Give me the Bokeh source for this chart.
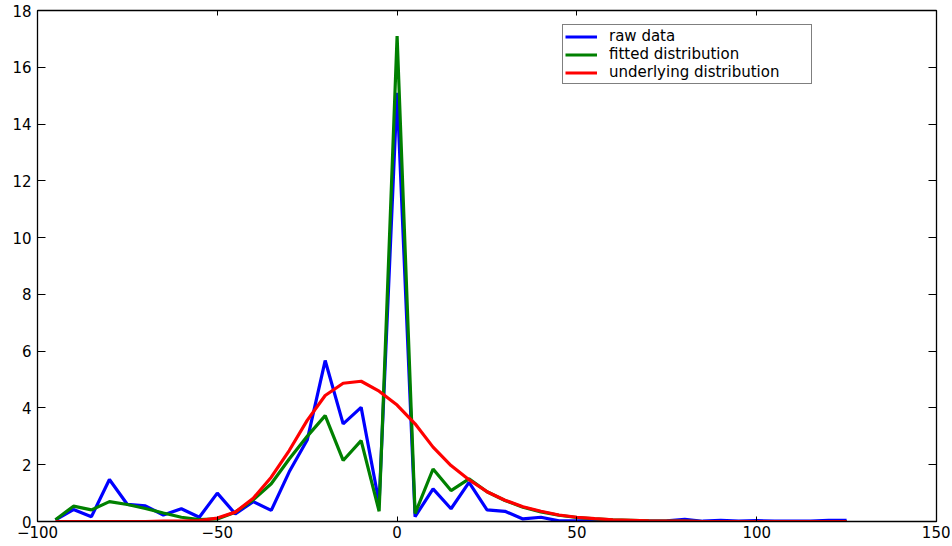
from bokeh.plotting import figure
from bokeh.models import Range1d, LinearAxis, FixedTicker, Legend, LegendItem
from bokeh.embed import file_html
from bokeh.resources import INLINE

x = [-95, -90, -85, -80, -75, -70, -65, -60, -55, -50, -45, -40, -35, -30, -25,
     -20, -15, -10, -5, 0, 5, 10, 15, 20, 25, 30, 35, 40, 45, 50, 55, 60, 65, 70,
     75, 80, 85, 90, 95, 100, 105, 110, 115, 120, 125]

raw_data = [0.06, 0.42, 0.17, 1.48, 0.60, 0.55, 0.23, 0.45, 0.15, 1.00, 0.27, 0.70,
            0.39, 1.75, 2.87, 5.67, 3.44, 4.02, 0.65, 15.1, 0.17, 1.15, 0.45, 1.38,
            0.41, 0.36, 0.09, 0.15, 0.02, 0.02, 0.02, 0.01, 0.01, 0.01, 0.02, 0.08,
            0.01, 0.04, 0.01, 0.03, 0.01, 0.01, 0.01, 0.04, 0.04]

fitted = [0.06, 0.54, 0.41, 0.70, 0.60, 0.46, 0.30, 0.15, 0.07, 0.09, 0.33, 0.76,
          1.33, 2.20, 3.00, 3.73, 2.15, 2.85, 0.36, 17.1, 0.28, 1.85, 1.09, 1.50,
          1.05, 0.74, 0.50, 0.34, 0.22, 0.14, 0.09, 0.06, 0.04, 0.02, 0.01, 0.01,
          0.0, 0.0, 0.0, 0.0, 0.0, 0.0, 0.0, 0.0, 0.0]

underlying = [0.0, 0.0, 0.0, 0.0, 0.0, 0.0, 0.01, 0.01, 0.03, 0.12, 0.33, 0.82,
              1.56, 2.50, 3.56, 4.44, 4.87, 4.94, 4.59, 4.10, 3.44, 2.62, 1.97, 1.47,
              1.05, 0.75, 0.52, 0.36, 0.23, 0.15, 0.10, 0.06, 0.04, 0.02, 0.01, 0.01,
              0.0, 0.0, 0.0, 0.0, 0.0, 0.0, 0.0, 0.0, 0.0]

x_ticks = [-100, -50, 0, 50, 100, 150]
y_ticks = [0, 2, 4, 6, 8, 10, 12, 14, 16, 18]
series_names = ["raw data", "fitted distribution", "underlying distribution"]
series_colors = ["#0000ff", "#008000", "#ff0000"]

FONT = "DejaVu Sans"

p = figure(width=950, height=544, x_range=Range1d(-100, 150), y_range=Range1d(0, 18),
           output_backend="svg", toolbar_location=None,
           min_border_left=37, min_border_right=14, min_border_top=10, min_border_bottom=23)
p.xgrid.visible = False
p.ygrid.visible = False
p.outline_line_color = "black"
p.background_fill_color = "white"
p.border_fill_color = "white"

minus = "\u2212"
xlabels = {t: (minus + str(abs(t)) if t < 0 else str(t)) for t in x_ticks}

def style(ax, ticks, tick_in, standoff=3, labels=True):
    ax.ticker = FixedTicker(ticks=ticks)
    ax.axis_line_color = "black"
    ax.axis_line_width = 1.3
    ax.major_tick_line_color = "black"
    ax.major_tick_in = tick_in
    ax.major_tick_out = 0
    ax.minor_tick_line_color = None
    if labels:
        ax.major_label_text_font = FONT
        ax.major_label_text_font_size = "15px"
        ax.major_label_text_color = "black"
        ax.major_label_standoff = standoff
    else:
        ax.major_label_text_font_size = "1px"
        ax.major_label_text_color = None
        ax.major_label_standoff = 0

style(p.xaxis[0], x_ticks, 5, standoff=4)
p.xaxis[0].major_label_overrides = xlabels
style(p.yaxis[0], y_ticks, 8, standoff=6)

top = LinearAxis()
style(top, x_ticks, 5, labels=False)
p.add_layout(top, "above")
right = LinearAxis()
style(right, y_ticks, 8, labels=False)
p.add_layout(right, "right")

renderers = []
for ys, c in zip([raw_data, fitted, underlying], series_colors):
    renderers.append(p.line(x, ys, line_color=c, line_width=3.2))

legend = Legend(items=[LegendItem(label=n, renderers=[r]) for n, r in zip(series_names, renderers)],
                location=(525, 437))
legend.label_text_font = FONT
legend.label_text_font_size = "15px"
legend.label_text_color = "black"
legend.border_line_color = "black"
legend.border_line_width = 1
legend.background_fill_color = "white"
legend.background_fill_alpha = 1
legend.glyph_width = 32
legend.glyph_height = 17
legend.label_height = 17
legend.label_width = 200
legend.label_standoff = 12
legend.padding = 2
legend.spacing = 0
legend.margin = 0
p.add_layout(legend)

open("out.html", "w").write(file_html(p, INLINE))
